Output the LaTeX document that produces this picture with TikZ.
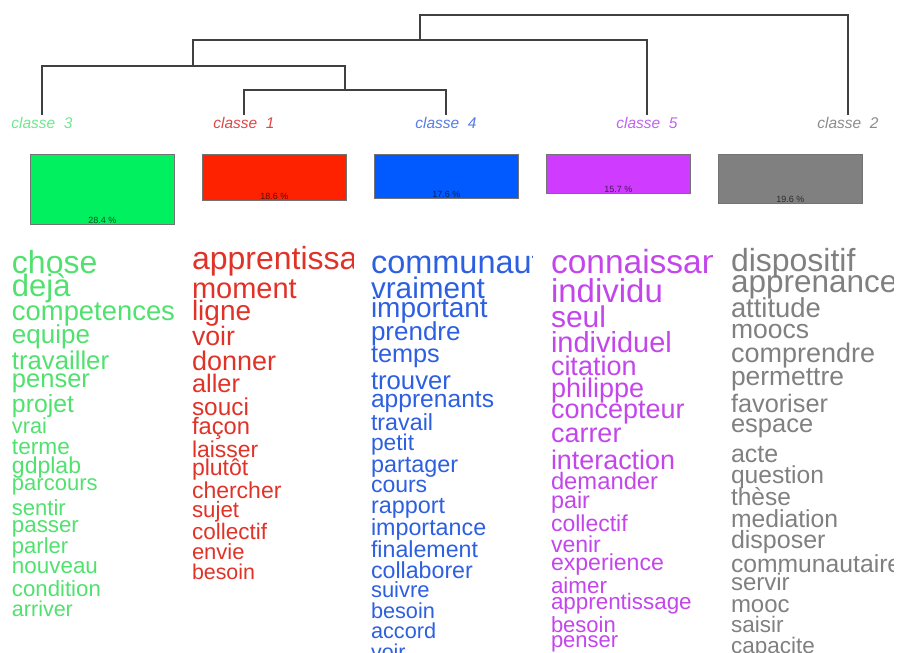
\documentclass[tikz,border=0pt]{standalone}
\usepackage{fontspec}
\setmainfont{Liberation Sans}
\definecolor{gbox}{RGB}{0,240,95}
\definecolor{rbox}{RGB}{255,34,0}
\definecolor{bbox}{RGB}{0,90,255}
\definecolor{pbox}{RGB}{208,60,255}
\definecolor{ybox}{RGB}{128,128,128}
\definecolor{gword}{RGB}{80,225,110}
\definecolor{rword}{RGB}{225,50,40}
\definecolor{bword}{RGB}{45,95,225}
\definecolor{pword}{RGB}{195,70,235}
\definecolor{yword}{RGB}{128,128,128}
\definecolor{glab}{RGB}{110,232,140}
\definecolor{rlab}{RGB}{225,70,70}
\definecolor{blab}{RGB}{85,125,232}
\definecolor{plab}{RGB}{190,100,240}
\definecolor{ylab}{RGB}{140,140,140}
\tikzset{
  dend/.style={draw=black!75, line width=1.1pt},
  classlab/.style={font=\fontsize{15.5}{15.5}\selectfont\itshape, anchor=base, inner sep=1.5pt},
  pctbox/.style={draw=black!55, line width=0.8pt, anchor=north west, minimum width=144pt, inner sep=0pt},
  pcttext/.style={font=\fontsize{9}{9}\selectfont, text=black, text opacity=0.65, anchor=south, inner sep=1.5pt},
  word/.style={anchor=base west, inner sep=0pt, outer sep=0pt}
}
\begin{document}
\begin{tikzpicture}[x=1pt,y=-1pt]
\useasboundingbox (0,0) rectangle (898,653);

% dendrogram leaves
\node[classlab, text=glab] (l3) at (42,128) {classe\ \ 3};
\node[classlab, text=rlab] (l1) at (244,128) {classe\ \ 1};
\node[classlab, text=blab] (l4) at (446,128) {classe\ \ 4};
\node[classlab, text=plab] (l5) at (647,128) {classe\ \ 5};
\node[classlab, text=ylab] (l2) at (848,128) {classe\ \ 2};

\coordinate (a) at (345,90);
\coordinate (b) at (193,66);
\coordinate (c) at (420,40);
\coordinate (d) at (634,15);
\draw[dend] (l1.north) |- (a) -| (l4.north);
\draw[dend] (l3.north) |- (b) -| (a);
\draw[dend] (b) |- (c) -| (l5.north);
\draw[dend] (c) |- (d) -| (l2.north);

% boxes
\node[pctbox, fill=gbox, minimum height=70pt] (b3) at (30,154) {};
\node[pctbox, fill=rbox, minimum height=46pt] (b1) at (202,154) {};
\node[pctbox, fill=bbox, minimum height=44pt] (b4) at (374,154) {};
\node[pctbox, fill=pbox, minimum height=39pt] (b5) at (546,154) {};
\node[pctbox, fill=ybox, minimum height=49pt] (b2) at (718,154) {};
\node[pcttext] (p3) at (b3.south) {28.4 \%};
\node[pcttext] (p1) at (b1.south) {18.6 \%};
\node[pcttext] (p4) at (b4.south) {17.6 \%};
\node[pcttext] (p5) at (b5.south) {15.7 \%};
\node[pcttext] (p2) at (b2.south) {19.6 \%};

% word columns
\begin{scope}
\clip (5,238) rectangle (178,653);
\foreach \w/\y/\s [count=\i] in {chose/273/32,dejà/296/31,competences/320/27.4,equipe/343/26,travailler/369/25.7,penser/387/25.5,projet/412/24.8,vrai/433/21.7,terme/454/22.7,gdplab/473/23,parcours/490/22,sentir/515/22,passer/532/22.3,parler/553/22,nouveau/573/22.4,condition/596/22.2,arriver/616/21.5}
  \node[word, text=gword, font=\fontsize{\s}{\s}\selectfont] (g\i) at (12,\y) {\w};
\end{scope}

\begin{scope}
\clip (185,238) rectangle (353,653);
\foreach \w/\y/\s [count=\i] in {apprentissage/269/32,moment/298/29,ligne/320/28,voir/345/26.7,donner/370/27,aller/392/25.4,souci/415/24.4,façon/434/23.7,laisser/457/22.9,plutôt/475/23,chercher/498/23,sujet/517/22.3,collectif/539/22.5,envie/559/22,besoin/579/21.4}
  \node[word, text=rword, font=\fontsize{\s}{\s}\selectfont] (r\i) at (192,\y) {\w};
\end{scope}

\begin{scope}
\clip (364,238) rectangle (532,653);
\foreach \w/\y/\s [count=\i] in {communautaire/273/32.5,vraiment/298/29.7,important/317/28,prendre/340/26,temps/362/25.3,trouver/389/25.7,apprenants/407/24.6,travail/430/23.3,petit/450/22.8,partager/472/23.4,cours/492/23,rapport/513/23.4,importance/535/23.3,finalement/557/23.2,collaborer/578/23.2,suivre/597/22,besoin/618/21.7,accord/638/21.7,voir/659/21.5}
  \node[word, text=bword, font=\fontsize{\s}{\s}\selectfont] (u\i) at (371,\y) {\w};
\end{scope}

\begin{scope}
\clip (544,238) rectangle (712,653);
\foreach \w/\y/\s [count=\i] in {connaissance/273/33.5,individu/302/33,seul/327/30,individuel/352/29,citation/375/27,philippe/397/27,concepteur/418/27,carrer/442/27,interaction/469/26.9,demander/489/23.8,pair/508/23.4,collectif/531/23,venir/552/23,experience/570/23.1,aimer/593/22.4,apprentissage/609/22.4,besoin/632/22,penser/647/22}
  \node[word, text=pword, font=\fontsize{\s}{\s}\selectfont] (v\i) at (551,\y) {\w};
\end{scope}

\begin{scope}
\clip (724,238) rectangle (893,653);
\foreach \w/\y/\s [count=\i] in {dispositif/271/32,apprenance/292/31.5,attitude/317/27.4,moocs/338/26.5,comprendre/362/27,permettre/385/26.4,favoriser/412/25.3,espace/432/25.5,acte/462/25,question/483/24.6,thèse/505/24.5,mediation/527/24.7,disposer/548/25,communautaire/572/24.7,servir/590/24,mooc/612/24,saisir/632/22.5,capacite/653/22.5}
  \node[word, text=yword, font=\fontsize{\s}{\s}\selectfont] (y\i) at (731,\y) {\w};
\end{scope}
\end{tikzpicture}
\end{document}
